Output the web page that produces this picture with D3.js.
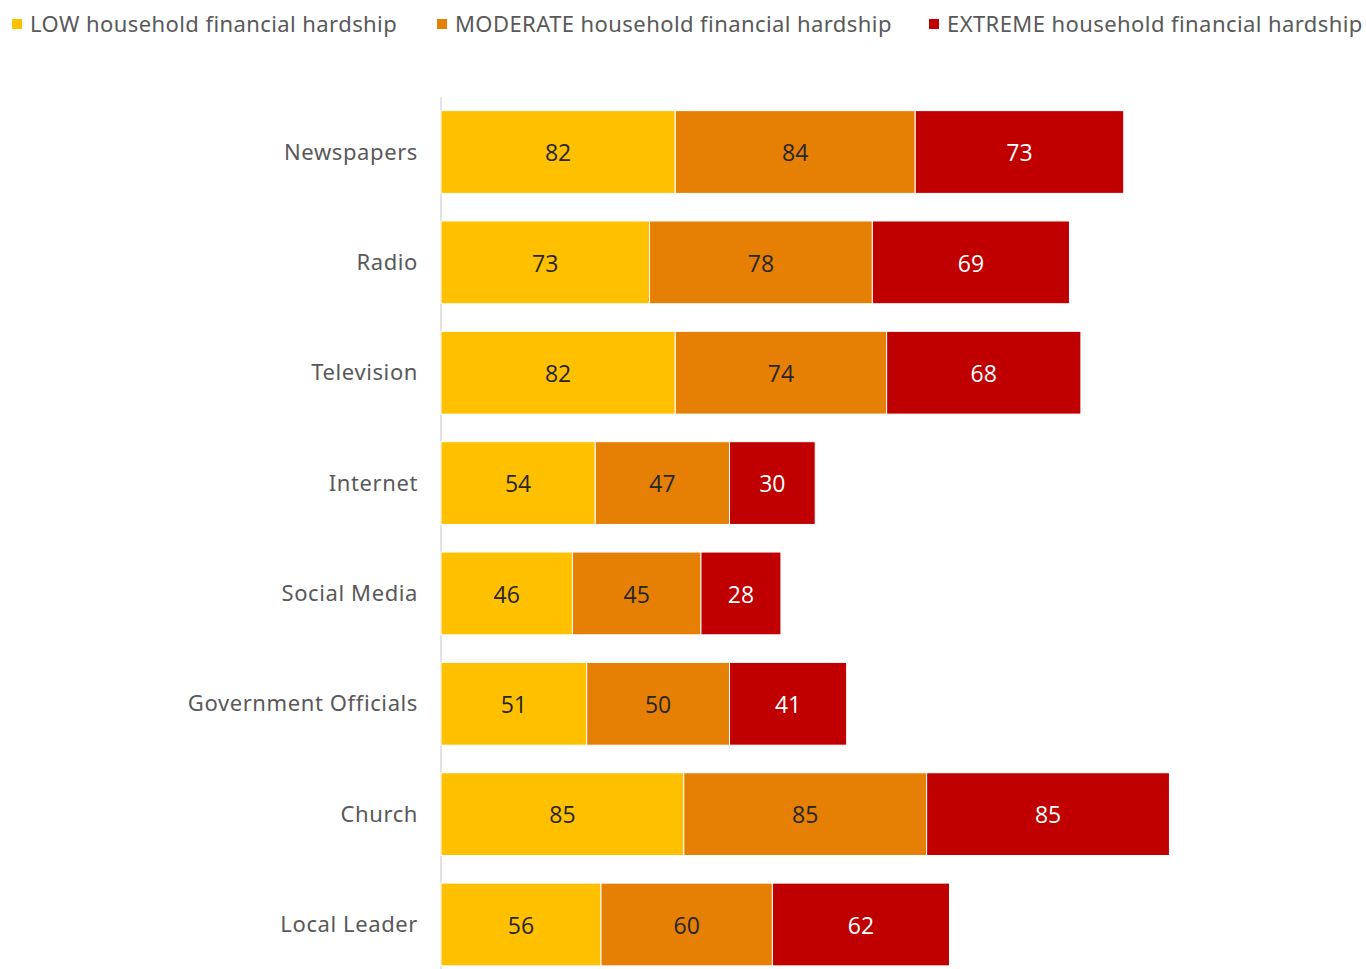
<!DOCTYPE html>
<html>
<head>
<meta charset="utf-8">
<script src="https://cdn.jsdelivr.net/npm/d3@7"></script>
<style>
  html, body { margin: 0; padding: 0; background: #fff; }
  svg { display: block; }
</style>
</head>
<body>
<svg id="chart" width="1366" height="969"></svg>
<script>
// Information sources by level of household financial hardship
const categories = ["Newspapers", "Radio", "Television", "Internet", "Social Media", "Government Officials", "Church", "Local Leader"];
const seriesNames = ["LOW household financial hardship", "MODERATE household financial hardship", "EXTREME household financial hardship"];
const lowValues      = [82, 73, 82, 54, 46, 51, 85, 56];
const moderateValues = [84, 78, 74, 47, 45, 50, 85, 60];
const extremeValues  = [73, 69, 68, 30, 28, 41, 85, 62];
const seriesColors = ["#FFC000", "#E58004", "#C00000"];
const labelColors  = ["#262626", "#262626", "#ffffff"];

const svg = d3.select("#chart");
const FONT = "'Noto Sans', 'Open Sans', sans-serif";

const rows = categories.map((c, i) => ({
  category: c,
  LOW: lowValues[i], MODERATE: moderateValues[i], EXTREME: extremeValues[i]
}));
const keys = ["LOW", "MODERATE", "EXTREME"];
const stacked = d3.stack().keys(keys)(rows);

const x = d3.scaleLinear().domain([0, 300]).range([441, 1298]);
const y = d3.scaleBand().domain(categories).range([96.5, 980])
  .paddingInner(0.25).paddingOuter(0.128);

// vertical category axis line
svg.append("line")
  .attr("x1", 441).attr("x2", 441)
  .attr("y1", 97).attr("y2", 969)
  .attr("stroke", "#d9d9d9").attr("stroke-width", 1.5);

// category labels
svg.append("g").selectAll("text").data(categories).join("text")
  .attr("x", 418)
  .attr("y", d => y(d) + y.bandwidth() / 2)
  .attr("dy", "0.35em")
  .attr("text-anchor", "end")
  .attr("font-family", FONT)
  .attr("font-size", 22)
  .attr("fill", "#595959")
  .attr("letter-spacing", "0.6px")
  .text(d => d);

// stacked bars
const layers = svg.append("g").selectAll("g").data(stacked).join("g")
  .attr("fill", (d, i) => seriesColors[i]);

layers.selectAll("rect").data(d => d).join("rect")
  .attr("x", d => x(d[0]))
  .attr("y", d => y(d.data.category))
  .attr("width", d => x(d[1]) - x(d[0]))
  .attr("height", y.bandwidth())
  .attr("stroke", "#ffffff")
  .attr("stroke-width", 1);

// value labels
stacked.forEach((layer, li) => {
  svg.append("g").selectAll("text").data(layer).join("text")
    .attr("x", d => (x(d[0]) + x(d[1])) / 2)
    .attr("y", d => y(d.data.category) + y.bandwidth() / 2)
    .attr("dy", "0.4em")
    .attr("text-anchor", "middle")
    .attr("font-family", "'Open Sans', 'Noto Sans', sans-serif")
    .attr("font-size", 23)
    .attr("fill", labelColors[li])
    .text(d => d[1] - d[0]);
});

// legend
const legendX = [12, 437, 929];
const legend = svg.append("g").selectAll("g").data(seriesNames).join("g")
  .attr("transform", (d, i) => `translate(${legendX[i]},0)`);
legend.append("rect")
  .attr("x", 0).attr("y", 19).attr("width", 10).attr("height", 10)
  .attr("fill", (d, i) => seriesColors[i]);
legend.append("text")
  .attr("x", 18).attr("y", 24)
  .attr("dy", "0.35em")
  .attr("font-family", FONT)
  .attr("font-size", 22)
  .attr("fill", "#595959")
  .attr("letter-spacing", "0.42px")
  .text(d => d);
</script>
</body>
</html>
